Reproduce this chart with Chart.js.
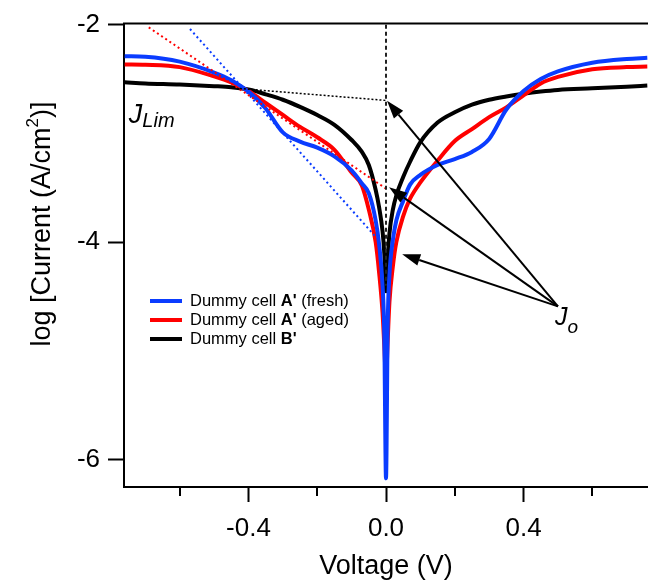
<!DOCTYPE html>
<html>
<head>
<meta charset="utf-8">
<title>Tafel plot - dummy cells</title>
<script src="https://cdn.jsdelivr.net/npm/chart.js@4.4.1/dist/chart.umd.min.js"></script>
<style>
  html, body { margin: 0; padding: 0; background: #fff; }
  #wrap { width: 648px; height: 580px; }
</style>
</head>
<body>
<div id="wrap"><canvas id="chart" width="648" height="580"></canvas></div>
<script>
// voltage grid (V) shared by the three measured curves
const voltage = [-0.76, -0.70, -0.60, -0.50, -0.45, -0.40, -0.35, -0.30, -0.25, -0.20, -0.15, -0.10, -0.07, -0.05, -0.03, -0.02, -0.01, -0.005,
  0,
  0.005, 0.01, 0.02, 0.03, 0.05, 0.07, 0.10, 0.15, 0.20, 0.25, 0.30, 0.35, 0.40, 0.45, 0.50, 0.60, 0.70, 0.76];

// log current density, log(A/cm2)
const logFresh = [-2.29, -2.295, -2.34, -2.44, -2.51, -2.615, -2.77, -2.99, -3.075, -3.13, -3.21, -3.34, -3.46, -3.55, -3.80, -4.02, -4.40, -4.85,
  -6.17,
  -4.75, -4.30, -3.98, -3.80, -3.62, -3.47, -3.38, -3.29, -3.235, -3.17, -3.05, -2.78, -2.61, -2.50, -2.43, -2.35, -2.315, -2.305];
const logAged = [-2.365, -2.368, -2.39, -2.475, -2.53, -2.61, -2.72, -2.83, -2.94, -3.035, -3.15, -3.36, -3.48, -3.70, -4.00, -4.28, -4.65, -4.95,
  -5.25,
  -4.90, -4.55, -4.22, -4.00, -3.76, -3.60, -3.45, -3.25, -3.07, -2.96, -2.85, -2.76, -2.65, -2.54, -2.48, -2.41, -2.39, -2.385];
const logB = [-2.53, -2.54, -2.55, -2.565, -2.575, -2.595, -2.64, -2.69, -2.755, -2.83, -2.92, -3.06, -3.17, -3.29, -3.52, -3.68, -3.90, -4.10,
  -4.45,
  -4.15, -3.92, -3.70, -3.57, -3.40, -3.26, -3.08, -2.90, -2.805, -2.735, -2.69, -2.66, -2.635, -2.615, -2.60, -2.585, -2.57, -2.56];

// tangent / guide lines: [start, end] pairs
const limTangentV = [-0.425, 0.003];
const limTangentLog = [-2.587, -2.697];
const agedTangentV = [-0.69, 0.0];
const agedTangentLog = [-2.025, -3.507];
const freshTangentV = [-0.57, -0.03];
const freshTangentLog = [-2.04, -3.95];
const zeroLineV = [0, 0];
const zeroLineLog = [-2.0, -4.4];

// arrows to the exchange-current intercepts
const arrowFrom = [0.50, -4.59];
const arrowTips = [[0.003, -2.70], [0.009, -3.495], [0.047, -4.11]];

// axes
const xMajorTicks = [-0.4, 0.0, 0.4];
const xMinorTicks = [-0.6, -0.2, 0.2, 0.6];
const yTicks = [-6, -4, -2];
const xRange = [-0.762, 0.762];
const yRange = [-6.25, -1.99];

const seriesLabels = ["Dummy cell A' (fresh)", "Dummy cell A' (aged)", "Dummy cell B'"];
const seriesBold = ["A'", "A'", "B'"];
const seriesColors = ['#0a3cff', '#ff0000', '#000000'];

const FONT = '"Liberation Sans", Arial, sans-serif';
Chart.defaults.font.family = FONT;
Chart.defaults.color = '#000';

const toPoints = (xs, ys) => xs.map((v, i) => ({ x: v, y: ys[i] }));

function drawRuns(ctx, runs, x, y) {
    runs.forEach((r) => {
        ctx.font = r.font;
        ctx.fillText(r.text, x, y + (r.dy || 0));
        x += ctx.measureText(r.text).width;
    });
    return x;
}

function runsWidth(ctx, runs) {
    return runs.reduce((w, r) => { ctx.font = r.font; return w + ctx.measureText(r.text).width; }, 0);
}

function arrow(ctx, x0, y0, x1, y1) {
    const a = Math.atan2(y1 - y0, x1 - x0);
    const len = 18, half = 6;
    const bx = x1 - len * Math.cos(a), by = y1 - len * Math.sin(a);
    ctx.beginPath();
    ctx.moveTo(x0, y0);
    ctx.lineTo(bx, by);
    ctx.stroke();
    ctx.beginPath();
    ctx.moveTo(x1, y1);
    ctx.lineTo(bx + half * Math.sin(a), by - half * Math.cos(a));
    ctx.lineTo(bx - half * Math.sin(a), by + half * Math.cos(a));
    ctx.closePath();
    ctx.fill();
}

const annotate = {
    id: 'annotate',
    afterDraw(chart) {
        const { ctx, chartArea: area, scales: { x, y } } = chart;
        ctx.save();
        ctx.strokeStyle = '#000';
        ctx.fillStyle = '#000';

        // top frame + minor ticks
        ctx.lineWidth = 2;
        ctx.beginPath();
        ctx.moveTo(area.left - 1, area.top);
        ctx.lineTo(area.right, area.top);
        ctx.stroke();
        xMinorTicks.forEach((v) => {
            const px = Math.round(x.getPixelForValue(v));
            ctx.beginPath();
            ctx.moveTo(px, area.bottom);
            ctx.lineTo(px, area.bottom + 9);
            ctx.stroke();
        });

        // arrows
        ctx.lineWidth = 2;
        const ox = x.getPixelForValue(arrowFrom[0]), oy = y.getPixelForValue(arrowFrom[1]);
        arrowTips.forEach(([v, l]) => arrow(ctx, ox, oy, x.getPixelForValue(v), y.getPixelForValue(l)));

        // J_Lim and J_o labels
        ctx.textAlign = 'left';
        ctx.textBaseline = 'alphabetic';
        drawRuns(ctx, [
            { text: 'J', font: `italic 27px ${FONT}` },
            { text: 'Lim', font: `italic 20px ${FONT}`, dy: 4 },
        ], x.getPixelForValue(-0.748), y.getPixelForValue(-2.90));
        drawRuns(ctx, [
            { text: 'J', font: `italic 25px ${FONT}` },
            { text: 'o', font: `italic 19px ${FONT}`, dy: 8 },
        ], ox - 3, oy + 19);

        // legend
        ctx.textBaseline = 'middle';
        seriesLabels.forEach((label, i) => {
            const rowY = 301 + i * 19;
            ctx.strokeStyle = seriesColors[i];
            ctx.lineWidth = 4;
            ctx.beginPath();
            ctx.moveTo(150, rowY);
            ctx.lineTo(182, rowY);
            ctx.stroke();
            const [pre, post] = label.split(seriesBold[i]);
            ctx.fillStyle = '#000';
            drawRuns(ctx, [
                { text: pre, font: `16.5px ${FONT}` },
                { text: seriesBold[i], font: `bold 16.5px ${FONT}` },
                { text: post, font: `16.5px ${FONT}` },
            ], 190, rowY);
        });

        // y axis title with superscript
        const titleRuns = [
            { text: 'log [Current (A/cm', font: `27px ${FONT}` },
            { text: '2', font: `17px ${FONT}`, dy: -12 },
            { text: ')]', font: `27px ${FONT}` },
        ];
        ctx.translate(50, 224);
        ctx.rotate(-Math.PI / 2);
        ctx.textBaseline = 'alphabetic';
        drawRuns(ctx, titleRuns, -runsWidth(ctx, titleRuns) / 2, 0);
        ctx.restore();
    },
};

const guide = (xs, ys, color, dash, width) => ({
    data: toPoints(xs, ys),
    borderColor: color,
    borderDash: dash,
    borderWidth: width,
    pointRadius: 0,
    tension: 0,
    order: 0,
});

new Chart(document.getElementById('chart'), {
    type: 'line',
    data: {
        datasets: [
            guide(zeroLineV, zeroLineLog, '#222', [4, 3], 2),
            guide(limTangentV, limTangentLog, '#000', [2, 2], 1.5),
            guide(agedTangentV, agedTangentLog, '#ff0000', [2, 3], 2),
            guide(freshTangentV, freshTangentLog, seriesColors[0], [2, 3], 2),
            ...[logFresh, logAged, logB].map((vals, i) => ({
                label: seriesLabels[i],
                data: toPoints(voltage, vals),
                borderColor: seriesColors[i],
                borderWidth: 4,
                pointRadius: 0,
                cubicInterpolationMode: 'monotone',
                order: i + 1,
            })),
        ],
    },
    options: {
        responsive: false,
        animation: false,
        devicePixelRatio: 1,
        layout: { padding: { top: 23, right: 0, left: 0, bottom: 0 } },
        plugins: {
            legend: { display: false },
            tooltip: { enabled: false },
        },
        scales: {
            x: {
                type: 'linear',
                min: xRange[0],
                max: xRange[1],
                afterBuildTicks: (s) => { s.ticks = xMajorTicks.map((v) => ({ value: v })); },
                afterFit: (s) => { s.height = 93; },
                border: { color: '#000', width: 2 },
                grid: { drawOnChartArea: false, drawTicks: true, tickLength: 15, tickWidth: 2, tickColor: '#000' },
                ticks: {
                    padding: 11,
                    maxRotation: 0,
                    font: { size: 26 },
                    callback: (v) => Number(v).toFixed(1),
                },
                title: { display: true, text: 'Voltage (V)', font: { size: 27 }, padding: { top: 0, bottom: -3 } },
            },
            y: {
                type: 'linear',
                min: yRange[0],
                max: yRange[1],
                afterBuildTicks: (s) => { s.ticks = yTicks.map((v) => ({ value: v })); },
                afterFit: (s) => { s.width = 124; },
                border: { color: '#000', width: 2 },
                grid: { drawOnChartArea: false, drawTicks: true, tickLength: 16, tickWidth: 2, tickColor: '#000' },
                ticks: {
                    padding: 8,
                    font: { size: 26 },
                    callback: (v) => String(v),
                },
            },
        },
    },
    plugins: [annotate],
});
</script>
</body>
</html>
